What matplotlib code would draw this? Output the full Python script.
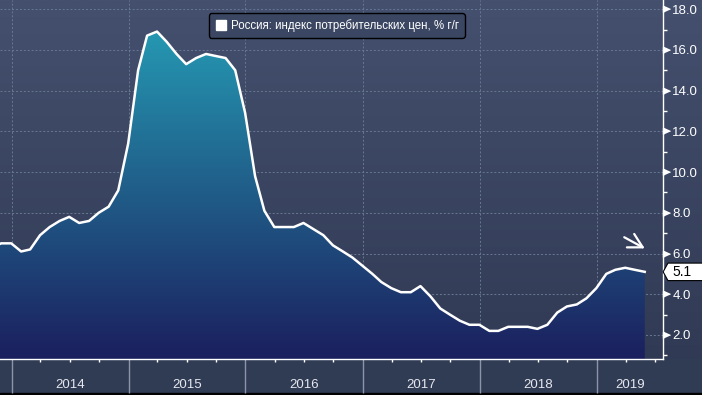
import numpy as np
import pandas as pd
import matplotlib
matplotlib.use('Agg')
import matplotlib.pyplot as plt
import matplotlib.dates as mdates
import matplotlib.transforms as mtransforms
from matplotlib.patches import Polygon, Rectangle
from matplotlib.lines import Line2D
from matplotlib.colors import LinearSegmentedColormap
from matplotlib.ticker import FixedLocator, NullFormatter

plt.rcParams['font.family'] = ['Liberation Sans', 'DejaVu Sans']

# ---------------- data ----------------
months = pd.date_range('2013-10-31', periods=68, freq='ME')
cpi = [6.3, 6.5, 6.5,
       6.1, 6.2, 6.9, 7.3, 7.6, 7.8, 7.5, 7.6, 8.0, 8.3, 9.1, 11.4,
       15.0, 16.7, 16.9, 16.4, 15.8, 15.3, 15.6, 15.8, 15.7, 15.6, 15.0, 12.9,
       9.8, 8.1, 7.3, 7.3, 7.3, 7.5, 7.2, 6.9, 6.4, 6.1, 5.8, 5.4,
       5.0, 4.6, 4.3, 4.1, 4.1, 4.4, 3.9, 3.3, 3.0, 2.7, 2.5, 2.5,
       2.2, 2.2, 2.4, 2.4, 2.4, 2.3, 2.5, 3.1, 3.4, 3.5, 3.8, 4.3,
       5.0, 5.2, 5.3, 5.2, 5.1]
series_label = "Россия: индекс потребительских цен, % г/г"
y_ticks = [2, 4, 6, 8, 10, 12, 14, 16, 18]
y_minor = [1, 3, 5, 7, 9, 11, 13, 15, 17]
years = [2014, 2015, 2016, 2017, 2018, 2019]
x_start = pd.Timestamp('2013-11-26')
x_end = pd.Timestamp('2019-07-26')
y_min, y_max = 0.82, 18.45

# ---------------- figure ----------------
W, H = 702, 395
fig = plt.figure(figsize=(W / 100, H / 100), dpi=100)

# background gradient
bg = fig.add_axes([0, 0, 1, 1], zorder=-10)
bg_cmap = LinearSegmentedColormap.from_list('bg', ['#2f3852', '#44506e'])
bg.imshow(np.linspace(0, 1, 256).reshape(-1, 1), cmap=bg_cmap, aspect='auto',
          origin='lower', extent=[0, 1, 0, 1])
bg.set_axis_off()

band_h = 36 / H
fig.patches.append(Rectangle((0, 0), 1, band_h, transform=fig.transFigure,
                             color='#303b54', zorder=-5))
fig.patches.append(Rectangle((0, 0), 1, 2 / H, transform=fig.transFigure,
                             color='black', zorder=-4))

ax = fig.add_axes([0, band_h, 662.7 / W, 359 / H])
ax.set_facecolor('none')
x = mdates.date2num(months)

# gradient fill under the curve
verts = [(x[0], y_min)] + list(zip(x, cpi)) + [(x[-1], y_min)]
poly = Polygon(verts, closed=True, facecolor='none', edgecolor='none',
               transform=ax.transData)
ax.add_patch(poly)
fill_cmap = LinearSegmentedColormap.from_list('fill', ['#1b1f5e', '#2598b2'])
im = ax.imshow(np.linspace(0, 1, 256).reshape(-1, 1), cmap=fill_cmap,
               aspect='auto', origin='lower',
               extent=[x[0], x[-1], y_min, max(cpi)], zorder=1)
im.set_clip_path(poly)
ax.set_xlim(mdates.date2num(x_start), mdates.date2num(x_end))
ax.set_ylim(y_min, y_max)

ax.plot(x, cpi, color='white', lw=1.8, zorder=3)

# spines
for s in ['left', 'top']:
    ax.spines[s].set_visible(False)
for s in ['right', 'bottom']:
    ax.spines[s].set_color('white')
    ax.spines[s].set_linewidth(1.0)

# y axis
ax.yaxis.tick_right()
ax.set_yticks(y_ticks)
ax.set_yticklabels([f'{v:.1f}' for v in y_ticks])
ax.yaxis.set_minor_locator(FixedLocator(y_minor))
ax.tick_params(axis='y', which='major', length=0, pad=7, labelsize=9.5,
               labelcolor='white')
ax.tick_params(axis='y', which='minor', length=3, width=1, color='white',
               direction='out')
ytrans = mtransforms.blended_transform_factory(ax.transAxes, ax.transData)
ax.plot(np.ones(len(y_ticks)), y_ticks, transform=ytrans, ls='none',
        marker=[(0, -1), (0, 1), (2.2, 0)], markersize=10, color='white',
        clip_on=False, zorder=5)

# x axis
ax.xaxis.set_major_locator(mdates.YearLocator())
ax.xaxis.set_major_formatter(NullFormatter())
ax.xaxis.set_minor_locator(mdates.MonthLocator(bymonth=[4, 7, 10]))
ax.tick_params(axis='x', which='major', length=24.5, width=1,
               color='#8c95a8', direction='out')
ax.tick_params(axis='x', which='minor', length=2.5, width=1,
               color='white', direction='out')
xtrans = mtransforms.blended_transform_factory(ax.transData, ax.transAxes)
lo, hi = ax.get_xlim()
for yr in years:
    a = max(mdates.date2num(pd.Timestamp(f'{yr}-01-01')), lo)
    b = min(mdates.date2num(pd.Timestamp(f'{yr + 1}-01-01')), hi)
    ax.text((a + b) / 2, -0.072, str(yr), transform=xtrans, ha='center',
            va='center', fontsize=9.5, color='#e6e8ee')

# grid
ax.grid(True, which='major', axis='both', color='#687894', lw=0.7,
        linestyle=(0, (2, 2)))
ax.set_axisbelow(True)

# legend
leg = ax.legend(handles=[Line2D([], [], marker='s', ls='none',
                                markerfacecolor='white',
                                markeredgecolor='white', markersize=7)],
                labels=[series_label], loc='upper left',
                bbox_to_anchor=(209 / 662.7, 1 - 13.3 / 359),
                borderaxespad=0, frameon=True, fancybox=True,
                facecolor='#3a4662', edgecolor='black', framealpha=1,
                labelcolor='white', prop={'size': 8.3},
                handletextpad=0.4, borderpad=0.5, handlelength=1.0)
leg.get_frame().set_linewidth(1.0)

# last value label
last_val = cpi[-1]
tag_tr = mtransforms.Affine2D().scale(fig.dpi / 72) + \
    mtransforms.ScaledTranslation(1.0, last_val, ytrans)
tag = Polygon([(0.3, 0), (3.8, 6.3), (29, 6.3), (29, -6.3), (3.8, -6.3)],
              closed=True, facecolor='white', edgecolor='black', lw=0.8,
              transform=tag_tr, clip_on=False, zorder=6)
ax.add_artist(tag)
ax.annotate(f'{last_val:.1f}', xy=(1.0, last_val), xycoords=ytrans,
            xytext=(6.8, 0), textcoords='offset points', ha='left',
            va='center', fontsize=10, color='black', zorder=7,
            annotation_clip=False)

# trend arrow
ax.annotate('', xy=(x[-1], last_val + 1.15),
            xytext=(x[-1] - 64, last_val + 1.7),
            arrowprops=dict(arrowstyle='->,head_length=1.0,head_width=0.55',
                            color='white', lw=1.6, shrinkA=0, shrinkB=0),
            zorder=6)

fig.savefig('out.png', dpi=100, facecolor=fig.get_facecolor())
